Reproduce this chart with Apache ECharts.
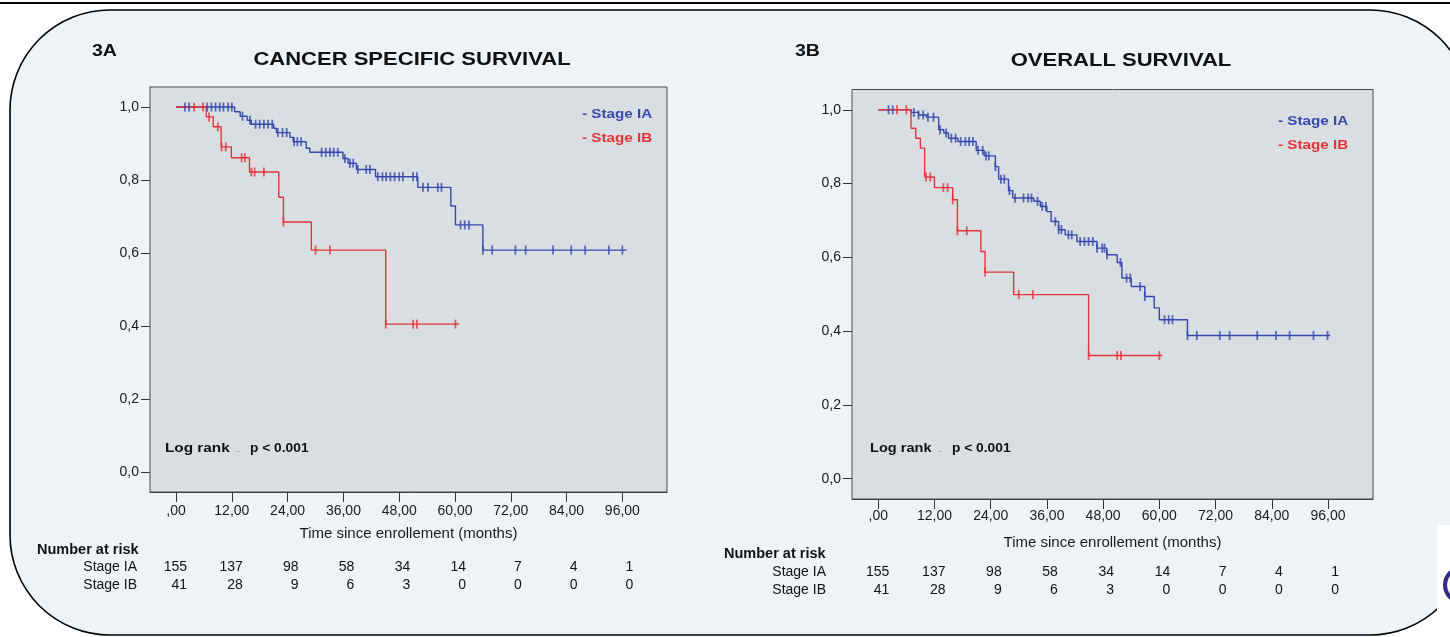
<!DOCTYPE html>
<html><head><meta charset="utf-8">
<script src="https://cdn.jsdelivr.net/npm/echarts@6/dist/echarts.min.js"></script>
<style>html,body{margin:0;padding:0;background:#fff;}#c{width:1450px;height:637px;}</style>
</head><body><div id="c"></div>
<script>
// ---- tick labels ----
const xTicks = [0, 12, 24, 36, 48, 60, 72, 84, 96];
const yTicks = [0, 0.2, 0.4, 0.6, 0.8, 1.0];
const riskTimes = [0, 12, 24, 36, 48, 60, 72, 84, 96];
const seriesNames = ['Stage IA', 'Stage IB'];

// ---- 3A: cancer specific survival ----
const cssIA_t = [0, 12.6, 13.8, 15.3, 16.2, 21, 21.6, 24.5, 25.2, 28, 28.8, 35.9, 37, 38.8, 42.9, 52, 59.1, 60.1, 66];
const cssIA_s = [1.0, 0.987, 0.975, 0.964, 0.953, 0.942, 0.93, 0.917, 0.905, 0.887, 0.876, 0.859, 0.846, 0.829, 0.809, 0.78, 0.729, 0.677, 0.608];
const cssIA_end = 96.9;
const cssIA_cens = [1.9, 2.8, 6.7, 7.6, 8.5, 9.4, 10.2, 11.2, 12.0, 14.3, 15.9, 17.1, 18.0, 18.9, 19.8, 20.7, 21.9, 22.9, 23.8, 25.4, 26.1, 26.9, 31.3, 32.2, 33.1, 33.9, 34.8, 36.3, 37.4, 38.1, 39.1, 40.9, 41.7, 43.4, 44.4, 45.2, 46.1, 47.0, 48.0, 48.8, 51.0, 51.8, 53.1, 54.2, 56.3, 57.1, 61.2, 62.1, 63.0, 66.0, 68.0, 73.0, 75.2, 81.1, 85.0, 88.0, 93.1, 96.0];

const cssIB_t = [0, 6.5, 8.0, 9.7, 11.9, 15.8, 22.1, 23.1, 29.1, 45.1];
const cssIB_s = [1.0, 0.973, 0.946, 0.891, 0.861, 0.822, 0.753, 0.685, 0.608, 0.405];
const cssIB_end = 60.9;
const cssIB_cens = [3.9, 5.8, 7.1, 9.0, 9.8, 10.7, 14.1, 14.8, 16.2, 16.9, 18.9, 23.1, 30.0, 33.1, 45.1, 51.0, 51.8, 60.1];

const cssRiskIA = [155, 137, 98, 58, 34, 14, 7, 4, 1];
const cssRiskIB = [41, 28, 9, 6, 3, 0, 0, 0, 0];

// ---- 3B: overall survival ----
const osIA_t = [0, 7.0, 8.6, 10.3, 12.9, 14.0, 15.0, 17.0, 20.9, 22.6, 25.0, 25.7, 27.8, 28.7, 33.2, 34.6, 36.0, 36.9, 38.5, 39.9, 42.4, 46.7, 48.8, 51.0, 52.0, 54.0, 56.9, 58.9, 60.0, 66.0];
const osIA_s = [1.0, 0.993, 0.986, 0.98, 0.946, 0.937, 0.923, 0.914, 0.89, 0.875, 0.846, 0.812, 0.781, 0.761, 0.752, 0.738, 0.724, 0.697, 0.675, 0.661, 0.643, 0.625, 0.607, 0.586, 0.544, 0.521, 0.494, 0.463, 0.431, 0.388];
const osIA_end = 96.5;
const osIA_cens = [2.2, 3.1, 7.6, 8.6, 9.6, 10.6, 11.8, 13.2, 14.5, 15.6, 16.5, 17.6, 18.6, 19.4, 20.2, 21.3, 22.3, 23.0, 23.6, 25.0, 26.2, 26.9, 28.0, 29.2, 31.0, 32.0, 32.7, 34.0, 35.0, 35.8, 37.8, 38.5, 39.1, 40.6, 41.3, 43.1, 44.0, 44.9, 45.8, 46.7, 47.8, 48.3, 48.8, 51.7, 53.0, 53.8, 55.9, 56.9, 61.1, 62.0, 62.8, 66.0, 68.0, 72.9, 75.0, 80.9, 84.9, 87.8, 92.9, 95.9];

const osIB_t = [0, 7.0, 8.0, 9.0, 9.9, 12.0, 15.9, 16.9, 21.9, 22.8, 28.9, 44.9];
const osIB_s = [1.0, 0.95, 0.923, 0.896, 0.818, 0.789, 0.756, 0.672, 0.616, 0.56, 0.499, 0.334];
const osIB_end = 60.6;
const osIB_cens = [4.0, 6.0, 10.2, 11.1, 13.9, 14.8, 15.9, 16.9, 18.9, 22.8, 30.0, 33.0, 44.9, 51.0, 51.8, 60.0];

const osRiskIA = [155, 137, 98, 58, 34, 14, 7, 4, 1];
const osRiskIB = [41, 28, 9, 6, 3, 0, 0, 0, 0];

// ---- helpers ----
function stepData(ts, ss, end) {
  const d = ts.map((t, i) => [t, ss[i]]);
  d.push([end, ss[ss.length - 1]]);
  return d;
}
function survAt(ts, ss, t) {
  let s = ss[0];
  for (let i = 0; i < ts.length; i++) if (t >= ts[i]) s = ss[i];
  return s;
}
function censData(ts, ss, cens) { return cens.map(t => [t, survAt(ts, ss, t)]); }

const FONT = '"Liberation Sans", Arial, Helvetica, sans-serif';
const BLUE = '#3549ab';
const RED = '#e1353b';
const fmtX = v => (v === 0 ? ',00' : v.toFixed(2).replace('.', ','));
const fmtY = v => v.toFixed(1).replace('.', ',');

function xAxisCfg(idx, gap, margin) {
  return {
    type: 'value', gridIndex: idx, min: -5.6, max: 105.6,
    name: 'Time since enrollement (months)', nameLocation: 'middle', nameGap: gap,
    nameTextStyle: { fontFamily: FONT, fontSize: 15, color: '#1a1a1a' },
    axisLine: { show: true, onZero: false, lineStyle: { color: '#333', width: 1 } },
    axisTick: { show: true, length: 10, customValues: xTicks, lineStyle: { color: '#333', width: 1 } },
    axisLabel: { customValues: xTicks, formatter: fmtX, margin: margin, fontFamily: FONT, fontSize: 14, color: '#1a1a1a' },
    splitLine: { show: false }
  };
}
function yAxisCfg(idx) {
  return {
    type: 'value', gridIndex: idx, min: -0.055, max: 1.055,
    axisLine: { show: true, onZero: false, lineStyle: { color: '#333', width: 1 } },
    axisTick: { show: true, length: 9, customValues: yTicks, lineStyle: { color: '#333', width: 1 } },
    axisLabel: { customValues: yTicks, formatter: fmtY, margin: 11, fontFamily: FONT, fontSize: 14, color: '#1a1a1a' },
    splitLine: { show: false }
  };
}
function kmSeries(idx, name, color, ts, ss, end, cens) {
  return [
    { type: 'line', name: name, xAxisIndex: idx, yAxisIndex: idx, step: 'end', showSymbol: false,
      data: stepData(ts, ss, end), lineStyle: { color: color, width: 1.4 }, itemStyle: { color: color },
      z: 3, silent: true },
    { type: 'scatter', name: name, xAxisIndex: idx, yAxisIndex: idx, symbol: 'rect', symbolSize: [1.8, 9],
      data: censData(ts, ss, cens), itemStyle: { color: color }, z: 4, silent: true }
  ];
}

const chart = echarts.init(document.getElementById('c'), null, { renderer: 'canvas' });
chart.setOption({
  animation: false,
  backgroundColor: '#ffffff',
  grid: [
    { left: 150, top: 87, width: 517, height: 405, show: true, backgroundColor: '#d9dee3', borderColor: '#4a4a4a', borderWidth: 1, z: 2 },
    { left: 852, top: 89.5, width: 521, height: 409.5, show: true, backgroundColor: '#d9dee3', borderColor: '#4a4a4a', borderWidth: 1, z: 2 }
  ],
  xAxis: [xAxisCfg(0, 34, 12), xAxisCfg(1, 36, 10)],
  yAxis: [yAxisCfg(0), yAxisCfg(1)],
  series: [].concat(
    kmSeries(0, seriesNames[0], BLUE, cssIA_t, cssIA_s, cssIA_end, cssIA_cens),
    kmSeries(0, seriesNames[1], RED, cssIB_t, cssIB_s, cssIB_end, cssIB_cens),
    kmSeries(1, seriesNames[0], BLUE, osIA_t, osIA_s, osIA_end, osIA_cens),
    kmSeries(1, seriesNames[1], RED, osIB_t, osIB_s, osIB_end, osIB_cens)
  )
});

function txt(x, y, text, opts) {
  opts = opts || {};
  return {
    type: 'text', x: x, y: y, scaleX: opts.sx || 1, z: 50,
    style: {
      text: text, font: (opts.bold ? 'bold ' : '') + (opts.size || 14) + 'px ' + FONT,
      fill: opts.color || '#111', textAlign: opts.align || 'left', align: opts.align || 'left',
      textVerticalAlign: 'middle', verticalAlign: 'middle'
    }
  };
}

const els = [
  { type: 'line', z: -10, shape: { x1: 0, y1: 3, x2: 1450, y2: 3 }, style: { stroke: '#000', lineWidth: 2 } },
  { type: 'rect', z: -10, shape: { x: 10, y: 10, width: 1460, height: 625, r: 100 }, style: { fill: '#eef3f8', stroke: '#000', lineWidth: 1.6 } },
  { type: 'rect', z: -5, shape: { x: 1437, y: 525, width: 20, height: 115 }, style: { fill: '#ffffff' } },
  { type: 'circle', z: -4, shape: { cx: 1462, cy: 585, r: 17 }, style: { fill: 'none', stroke: '#2f2a8a', lineWidth: 4 } },
  txt(92, 52, '3A', { bold: true, size: 16, sx: 1.22 }),
  txt(795, 52, '3B', { bold: true, size: 16, sx: 1.22 }),
  txt(412, 60, 'CANCER SPECIFIC SURVIVAL', { bold: true, size: 18.5, sx: 1.19, align: 'center' }),
  txt(1121, 61, 'OVERALL SURVIVAL', { bold: true, size: 18.5, sx: 1.19, align: 'center' }),
  txt(582, 114, '- ' + seriesNames[0], { bold: true, size: 13, sx: 1.17, color: BLUE }),
  txt(582, 138, '- ' + seriesNames[1], { bold: true, size: 13, sx: 1.17, color: RED }),
  txt(1278, 121, '- ' + seriesNames[0], { bold: true, size: 13, sx: 1.17, color: BLUE }),
  txt(1278, 145, '- ' + seriesNames[1], { bold: true, size: 13, sx: 1.17, color: RED }),
  txt(165, 448, 'Log rank', { bold: true, size: 13, sx: 1.18 }),
  txt(237, 450, '.', { size: 8 }),
  txt(250, 448, 'p < 0.001', { bold: true, size: 13, sx: 1.06 }),
  txt(870, 448, 'Log rank', { bold: true, size: 13, sx: 1.12 }),
  txt(939, 450, '.', { size: 8 }),
  txt(952, 448, 'p < 0.001', { bold: true, size: 13, sx: 1.06 }),
  txt(37, 550, 'Number at risk', { bold: true, size: 14.5 }),
  txt(137, 567, seriesNames[0], { size: 14, align: 'right' }),
  txt(137, 585, seriesNames[1], { size: 14, align: 'right' }),
  txt(724, 554, 'Number at risk', { bold: true, size: 14.5 }),
  txt(826, 572, seriesNames[0], { size: 14, align: 'right' }),
  txt(826, 590, seriesNames[1], { size: 14, align: 'right' })
];
riskTimes.forEach((t, i) => {
  const pl = chart.convertToPixel({ xAxisIndex: 0 }, t) + 11;
  const pr = chart.convertToPixel({ xAxisIndex: 1 }, t) + 11;
  els.push(txt(pl, 567, String(cssRiskIA[i]), { size: 14, align: 'right' }));
  els.push(txt(pl, 585, String(cssRiskIB[i]), { size: 14, align: 'right' }));
  els.push(txt(pr, 572, String(osRiskIA[i]), { size: 14, align: 'right' }));
  els.push(txt(pr, 590, String(osRiskIB[i]), { size: 14, align: 'right' }));
});
chart.setOption({ graphic: { elements: els } });
</script></body></html>
